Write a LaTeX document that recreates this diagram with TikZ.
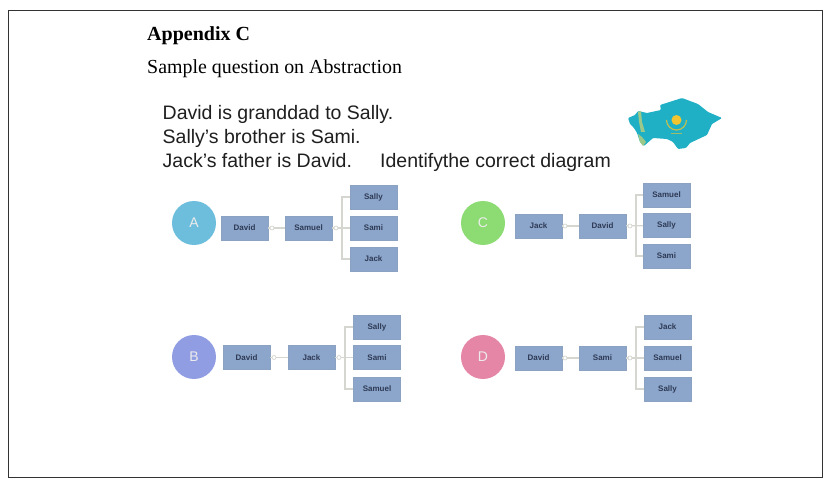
\documentclass[tikz,border=0pt]{standalone}
\usepackage{fontspec}
\setmainfont{Liberation Serif}
\setsansfont{Liberation Sans}
\definecolor{boxfill}{HTML}{8CA6CB}
\definecolor{boxtext}{HTML}{2E3A55}
\definecolor{linkc}{HTML}{D6D6D0}
\definecolor{kz}{HTML}{1FB0C6}
\definecolor{kzy}{HTML}{F2C42E}
\definecolor{kzg}{HTML}{9CC98A}
\definecolor{badgeA}{HTML}{6DBEDC}
\definecolor{badgeB}{HTML}{919DE2}
\definecolor{badgeC}{HTML}{8CDB73}
\definecolor{badgeD}{HTML}{E586A6}
\tikzset{
  namebox/.style={rectangle,fill=boxfill,draw=boxfill!90!gray,line width=0.3pt,minimum width=47pt,minimum height=24pt,inner sep=0pt,
    font=\sffamily\bfseries\fontsize{8}{9}\selectfont,text=boxtext},
  badge/.style={circle,minimum size=44pt,inner sep=0pt,text=white!85!gray,font=\sffamily\fontsize{14}{15}\selectfont},
  link/.style={draw=linkc,line width=1.2pt},
  hub/.style={circle,draw=linkc,line width=0.7pt,fill=white,minimum size=4pt,inner sep=0pt},
  heading/.style={anchor=base west,inner sep=0pt},
  question/.style={anchor=base west,inner sep=0pt,font=\sffamily\fontsize{19.5}{23}\selectfont,text=black!88}
}
\begin{document}
\begin{tikzpicture}[x=1pt,y=-1pt]
\useasboundingbox (0,0) rectangle (831,484);
\fill[white] (0,0) rectangle (831,484);
\draw[black!80,line width=0.8pt] (8,10) rectangle (822,477);
\node[heading,font=\rmfamily\bfseries\fontsize{20}{22}\selectfont] (title) at (147,41) {Appendix C};
\node[heading,font=\rmfamily\fontsize{19.9}{22}\selectfont] (sub) at (147,73.5) {Sample question on Abstraction};
\node[question] (q1) at (162.5,120) {David is granddad to Sally.};
\node[question] (q2) at (162.5,144) {Sally’s brother is Sami.};
\node[question] (q3) at (162.5,167.5) {Jack’s father is David.};
\node[question] (q4) at (380,167.5) {Identify\kern-0.2pt the correct diagram};
% map
\fill[kz,rounded corners=1pt] (628,118) -- (635,115) -- (638,111) -- (647,113) -- (661,110) -- (660,105) -- (682,98) -- (698,104) -- (708,112) -- (722,118) -- (712,124) -- (707,135) -- (690,143) -- (686,148) -- (678,149) -- (673,142) -- (667,139) -- (653,138) -- (644,146) -- (640,142) -- (637,133) -- (634,128) -- (630,124) -- cycle;
\fill[kzg] (638,112) -- (641,111) -- (642,122) -- (645,132) -- (641,132) -- (639,122) -- cycle;
\fill[kzg] (638,134) -- (642,137) -- (646,142) -- (643,146) -- (640,142) -- cycle;
\fill[kzy] (676.5,120) circle (5pt);
\draw[kzy!75!kz,line width=1.2pt] (666.5,120) arc[start angle=180,end angle=360,radius=10pt];
\draw[kzy!60!kz,line width=1pt] (671,134) -- (682,134);
% A
\node[badge,fill=badgeA] (A) at (194,223) {A};
\node[namebox] (a1) at (244.5,228) {David};
\node[namebox] (a2) at (308.5,228) {Samuel};
\node[namebox] (a3) at (373.5,197) {Sally};
\node[namebox] (a4) at (373.5,228) {Sami};
\node[namebox] (a5) at (373.5,259) {Jack};
\draw[link] (a2) -- (a1);
\draw[link] (a4) -- (a2);
\coordinate (at) at (342,197); \coordinate (ab) at (342,259);
\draw[link] (a3) -- (at) -- (ab) -- (a5);
\node[hub] (ah1) at (272,228) {};
\node[hub] (ah2) at (336,228) {};
% B
\node[badge,fill=badgeB] (B) at (194,357) {B};
\node[namebox] (b1) at (246.5,357.5) {David};
\node[namebox] (b2) at (311.5,357.5) {Jack};
\node[namebox] (b3) at (377,327) {Sally};
\node[namebox] (b4) at (377,357.5) {Sami};
\node[namebox] (b5) at (377,389) {Samuel};
\draw[link] (b2) -- (b1);
\draw[link] (b4) -- (b2);
\coordinate (bt) at (345,327); \coordinate (bb) at (345,389);
\draw[link] (b3) -- (bt) -- (bb) -- (b5);
\node[hub] (bh1) at (274,357.5) {};
\node[hub] (bh2) at (339,357.5) {};
% C
\node[badge,fill=badgeC] (C) at (483,223) {C};
\node[namebox] (c1) at (538.5,226) {Jack};
\node[namebox] (c2) at (602.5,226) {David};
\node[namebox] (c3) at (666.5,195) {Samuel};
\node[namebox] (c4) at (666.5,225.5) {Sally};
\node[namebox] (c5) at (666.5,256) {Sami};
\draw[link] (c2) -- (c1);
\draw[link] (c4) -- (c2);
\coordinate (ct) at (636,195); \coordinate (cb) at (636,256);
\draw[link] (c3) -- (ct) -- (cb) -- (c5);
\node[hub] (ch1) at (565,226) {};
\node[hub] (ch2) at (630,226) {};
% D
\node[badge,fill=badgeD] (D) at (483,357) {D};
\node[namebox] (d1) at (538.5,358) {David};
\node[namebox] (d2) at (602.5,358) {Sami};
\node[namebox] (d3) at (667.5,327) {Jack};
\node[namebox] (d4) at (667.5,358) {Samuel};
\node[namebox] (d5) at (667.5,389) {Sally};
\draw[link] (d2) -- (d1);
\draw[link] (d4) -- (d2);
\coordinate (dt) at (636,327); \coordinate (db) at (636,389);
\draw[link] (d3) -- (dt) -- (db) -- (d5);
\node[hub] (dh1) at (565,358) {};
\node[hub] (dh2) at (630,358) {};
\end{tikzpicture}
\end{document}
